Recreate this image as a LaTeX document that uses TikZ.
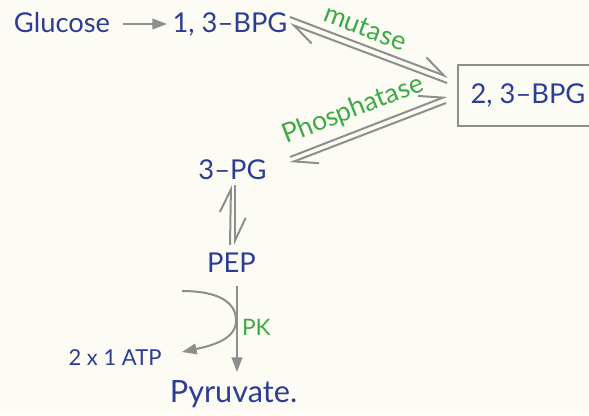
\documentclass[tikz,border=0pt]{standalone}
\usepackage{fontspec}
\setmainfont{Lato}
\usetikzlibrary{arrows.meta, positioning}
\usepackage{xcolor}
\definecolor{bpgmetab}{HTML}{2C3D96}
\definecolor{bpgenzyme}{HTML}{3DAA45}
\definecolor{bpgline}{HTML}{8E8E8E}
\definecolor{bpgpaper}{HTML}{FCFCF4}

\begin{document}
\begin{tikzpicture}[
    x=0.75pt, y=-0.75pt,
    every node/.style={inner sep=0pt},
    bpg-metab/.style={text=bpgmetab, font=\fontsize{20.5}{24}\selectfont, anchor=base},
    bpg-enzyme/.style={text=bpgenzyme, font=\fontsize{20}{23}\selectfont, inner sep=3pt},
    bpg-box/.style={draw=bpgline, line width=1.5pt,
        minimum width=105pt, minimum height=45.75pt},
    bpg-arrow/.style={-{Triangle[length=11pt, width=8pt]}, draw=bpgline, line width=1.5pt},
    bpg-harpoon/.style={-{Straight Barb[left, length=17pt, width=16pt]},
        draw=bpgline, line width=1.5pt},
]
    % paper
    \useasboundingbox (0,0) rectangle (589,415);
    \clip (0,0) rectangle (589,415);
    \fill[bpgpaper] (0,0) rectangle (589,415);

    % ---- NODES: metabolites ----
    \node[bpg-metab] (glucose) at (62,32) {Glucose};
    \node[bpg-metab] (bpg13)   at (230,32) {1, 3--BPG};
    \node[bpg-box, text=bpgmetab, font=\fontsize{20.5}{24}\selectfont]
        (bpg23) at (528,95.5) {2, 3--BPG};
    \node[bpg-metab] (pg3)     at (232.5,179) {3--PG};
    \node[bpg-metab] (pep)     at (231.5,272) {PEP};
    \node[bpg-metab, font=\fontsize{23}{27}\selectfont] (pyr) at (233.5,402) {Pyruvate.};
    \node[bpg-metab, font=\fontsize{16.5}{19}\selectfont] (atp) at (115,365) {2 x 1 ATP};

    \coordinate (atpsrc) at (182,291);

    % ---- ARROWS: main chain ----
    \draw[bpg-arrow] ([shift={(61,-8)}]glucose.base) -- ([shift={(-63,-8)}]bpg13.base);

    % mutase (1,3-BPG <=> 2,3-BPG)
    \draw[bpg-harpoon] ([shift={(60,-15)}]bpg13.base) -- ([shift={(-9,-18.5)}]bpg23.west)
        node[bpg-enzyme, pos=0.44, above=2pt, sloped] (mutase) {mutase};
    \draw[bpg-harpoon] ([shift={(-10,-12.5)}]bpg23.west) -- ([shift={(60,-8)}]bpg13.base);

    % phosphatase (2,3-BPG <=> 3-PG)
    \draw[bpg-harpoon] ([shift={(57.5,-22)}]pg3.base) -- ([shift={(-10,0.5)}]bpg23.west)
        node[bpg-enzyme, pos=0.45, above=3pt, sloped] (phos) {Phosphatase};
    \draw[bpg-harpoon] ([shift={(-11,7.5)}]bpg23.west) -- ([shift={(57.5,-16)}]pg3.base);

    % 3-PG <=> PEP
    \draw[bpg-harpoon] ([shift={(-1.5,-27)}]pep.base) -- ([shift={(-1.5,6)}]pg3.base);
    \draw[bpg-harpoon] ([shift={(2.5,6)}]pg3.base) -- ([shift={(3.5,-27)}]pep.base);

    % PEP -> pyruvate, with ATP side arrow
    \draw[bpg-arrow] ([shift={(5.5,14)}]pep.base) -- ([shift={(3.5,-30)}]pyr.base)
        node[bpg-enzyme, pos=0.48, right, font=\fontsize{17}{20}\selectfont] (pk) {PK};
    \draw[bpg-arrow] (atpsrc) .. controls (218,291) and (237,302) .. (236,322)
        .. controls (235,340) and (210,346) .. ([shift={(67,-13)}]atp.base);

\end{tikzpicture}
\end{document}
